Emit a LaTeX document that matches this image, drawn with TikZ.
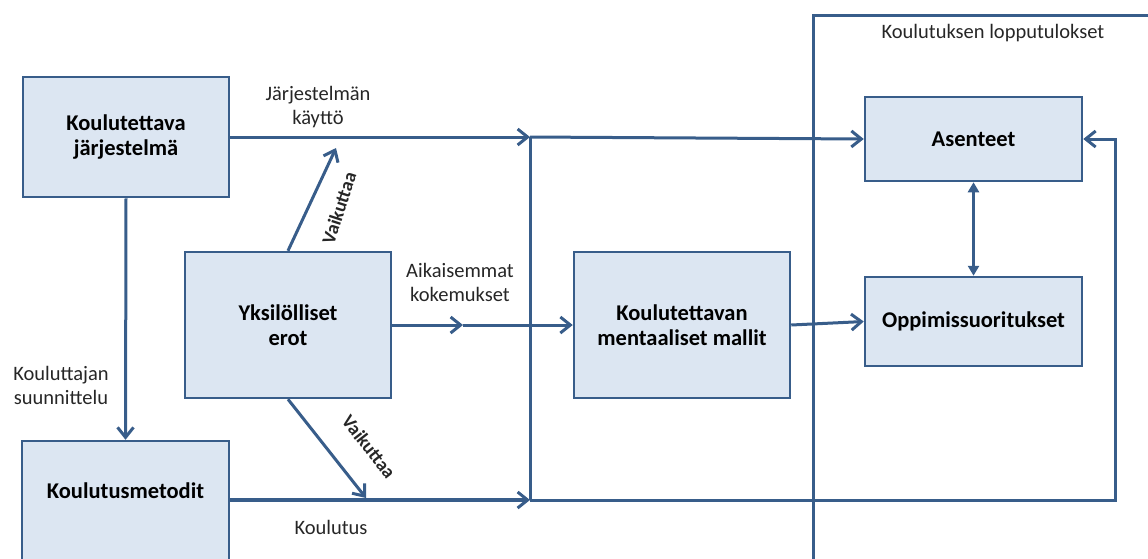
\documentclass[tikz,border=0pt]{standalone}
\usepackage{fontspec}
\setmainfont{Carlito}
\usetikzlibrary{arrows.meta}
\definecolor{ln}{HTML}{385D8A}
\definecolor{bx}{HTML}{DCE6F2}
\definecolor{tx}{HTML}{262626}
\begin{document}
\begin{tikzpicture}[x=1pt,y=-1pt,
  box/.style={draw=ln, fill=bx, line width=2.5pt, align=center, inner sep=0pt,
    font=\fontsize{22.5}{25}\selectfont\bfseries, text=black},
  boxtext/.style={align=center, inner sep=0pt, font=\fontsize{22.5}{25}\selectfont\bfseries, text=black},
  lbl/.style={align=center, inner sep=0pt, font=\fontsize{20.5}{24}\selectfont, text=tx},
  vlbl/.style={inner sep=0pt, font=\fontsize{19}{20}\selectfont\bfseries, text=tx},
  conn/.style={draw=ln, line width=3pt},
  thickconn/.style={draw=ln, line width=4.5pt},
  barb/.tip={Straight Barb[length=10pt,width=16pt,line width=3pt]},
  tri/.tip={Triangle[length=10pt,width=11pt]}]
\useasboundingbox (0,0) rectangle (1148,558);
\clip (0,0) rectangle (1148,558);

% boxes
\node[box, minimum width=206pt, minimum height=120pt] (ks) at (126,137) {Koulutettava\\järjestelmä};
\node[box, minimum width=206pt, minimum height=146pt] (ye) at (288,325) {Yksilölliset\\erot};
\node[box, minimum width=216pt, minimum height=146pt] (mm) at (682,325) {Koulutettavan\\mentaaliset mallit};
\node[box, minimum width=217pt, minimum height=84pt] (as) at (973.5,139) {Asenteet};
\node[box, minimum width=217pt, minimum height=89pt] (op) at (973.5,321.5) {Oppimissuoritukset};
\node[box, minimum width=207pt, minimum height=160pt] (km) at (125.5,521) {};
\node[boxtext] (kmt) at (125.5,491) {Koulutusmetodit};

% outer frame
\coordinate (fr1) at (1170,15);
\coordinate (fr2) at (813,580);
\draw[conn] (fr1) -| (fr2);
\node[lbl] (l5) at (993,33) {Koulutuksen lopputulokset};

% junctions
\coordinate (jt) at (530,137);
\coordinate (jb) at (530,500);
\coordinate (jr) at (1115,500);
\coordinate (v1) at (336,148);
\coordinate (v2) at (366,498);
\coordinate (ma) at (463,325);

% connectors
\draw[conn,-barb] (ks.east) -- (jt);
\draw[conn,-barb] (jt) -- (as.west);
\draw[conn] (jt) -- (jb);
\draw[thickconn,-barb] (km.east |- jb) -- (jb);
\draw[conn,-barb] (jb) -- (jr) |- (as.east);
\draw[conn,-barb] (ks.south) -- (km.north);
\draw[conn,-barb] (ye.north) -- (v1);
\draw[conn,-barb] (ye.south) -- (v2);
\draw[conn,-barb] (ye.east) -- (ma);
\draw[conn,-barb] (ma) -- (mm.west);
\draw[conn,-barb] (mm.east) -- (op.west);
\draw[conn,tri-tri] (as.south) -- (op.north);

% labels
\node[lbl] (l1) at (318,107) {Järjestelmän\\käyttö};
\node[lbl] (l2) at (460,282) {Aikaisemmat\\kokemukset};
\node[lbl] (l3) at (61,385) {Kouluttajan\\suunnittelu};
\node[lbl] (l4) at (331,527) {Koulutus};
\node[vlbl, rotate=72] (l6) at (339,208) {Vaikuttaa};
\node[vlbl, rotate=-52] (l7) at (369,447) {Vaikuttaa};
\end{tikzpicture}
\end{document}
